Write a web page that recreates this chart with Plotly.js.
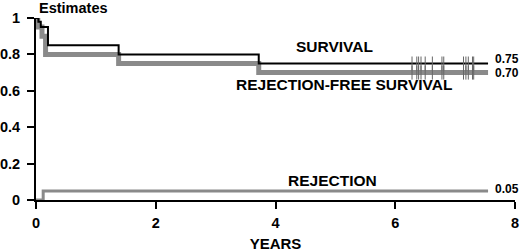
<!DOCTYPE html>
<html>
<head>
<meta charset="utf-8">
<script src="https://cdn.plot.ly/plotly-3.0.1.min.js"></script>
<style>html,body{margin:0;padding:0;background:#fff}#chart{width:520px;height:252px}</style>
</head>
<body>
<div id="chart"></div>
<script>
// Kaplan-Meier style step data (years, estimate)
const survivalYears = [0, 0.04, 0.08, 0.2, 1.38, 3.72, 7.55];
const survivalValues = [1, 0.98, 0.95, 0.85, 0.80, 0.75, 0.75];
const rejFreeYears = [0, 0.03, 0.1, 0.16, 1.38, 3.72, 7.55];
const rejFreeValues = [1, 0.95, 0.90, 0.80, 0.75, 0.70, 0.70];
const rejectionYears = [0, 0.12, 7.55];
const rejectionValues = [0, 0.05, 0.05];
const censorYears = [6.28, 6.36, 6.39, 6.43, 6.50, 6.62, 6.78, 6.81, 7.14, 7.18, 7.22, 7.29, 7.31];
const xTicks = [0, 2, 4, 6, 8];
const yTicks = [0, 0.2, 0.4, 0.6, 0.8, 1];
const yTickText = ['0', '0.2', '0.4', '0.6', '0.8', '1'];

const font = 'Liberation Sans, Arial, sans-serif';
const grey = '#8a8a8a';

const traces = [
  {x: rejFreeYears, y: rejFreeValues, mode: 'lines', line: {shape: 'hv', color: grey, width: 5}, hoverinfo: 'skip', cliponaxis: false},
  {x: survivalYears, y: survivalValues, mode: 'lines', line: {shape: 'hv', color: '#000', width: 2}, hoverinfo: 'skip', cliponaxis: false},
  {x: rejectionYears, y: rejectionValues, mode: 'lines', line: {shape: 'hv', color: grey, width: 3}, hoverinfo: 'skip', cliponaxis: false},
  {x: censorYears, y: censorYears.map(() => survivalValues[survivalValues.length - 1]), mode: 'markers',
   marker: {symbol: 'line-ns', size: 10, line: {color: '#666', width: 1}}, hoverinfo: 'skip', cliponaxis: false},
  {x: censorYears, y: censorYears.map(() => rejFreeValues[rejFreeValues.length - 1]), mode: 'markers',
   marker: {symbol: 'line-ns', size: 10, line: {color: '#666', width: 1}}, hoverinfo: 'skip', cliponaxis: false}
];

const bold = (s) => '<b>' + s + '</b>';

const layout = {
  width: 520, height: 252,
  margin: {l: 36, r: 5, t: 18, b: 52},
  paper_bgcolor: '#fff', plot_bgcolor: '#fff',
  showlegend: false,
  font: {family: font, color: '#000'},
  xaxis: {
    range: [0, 8], tickvals: xTicks, ticktext: xTicks.map(v => bold(String(v))),
    showgrid: false, zeroline: false, showline: true, linecolor: '#000', linewidth: 2,
    ticks: 'outside', ticklen: 7, tickwidth: 2, tickcolor: '#000',
    tickfont: {size: 14.5, family: font}, ticklabelstandoff: 2,
    title: {text: bold('YEARS'), font: {size: 15, family: font}, standoff: 10}
  },
  yaxis: {
    range: [0, 1], tickvals: yTicks, ticktext: yTickText.map(bold),
    showgrid: false, zeroline: false, showline: true, linecolor: '#000', linewidth: 2,
    ticks: 'outside', ticklen: 7, tickwidth: 2, tickcolor: '#000',
    tickfont: {size: 14.5, family: font}, ticklabelstandoff: 4
  },
  annotations: [
    {text: bold('Estimates'), xref: 'paper', yref: 'paper', x: 0.002, y: 1.055, xanchor: 'left', yanchor: 'middle', showarrow: false, font: {size: 14.5}},
    {text: bold('SURVIVAL'), xref: 'x', yref: 'y', x: 4.98, y: 0.845, xanchor: 'center', yanchor: 'middle', showarrow: false, font: {size: 15.5}},
    {text: bold('REJECTION-FREE SURVIVAL'), xref: 'x', yref: 'y', x: 5.15, y: 0.635, xanchor: 'center', yanchor: 'middle', showarrow: false, font: {size: 15.5}},
    {text: bold('REJECTION'), xref: 'x', yref: 'y', x: 4.95, y: 0.105, xanchor: 'center', yanchor: 'middle', showarrow: false, font: {size: 15.5}},
    {text: bold('0.75'), xref: 'x', yref: 'y', x: 7.63, y: 0.775, xanchor: 'left', yanchor: 'middle', showarrow: false, font: {size: 12}},
    {text: bold('0.70'), xref: 'x', yref: 'y', x: 7.63, y: 0.70, xanchor: 'left', yanchor: 'middle', showarrow: false, font: {size: 12}},
    {text: bold('0.05'), xref: 'x', yref: 'y', x: 7.63, y: 0.06, xanchor: 'left', yanchor: 'middle', showarrow: false, font: {size: 12}}
  ]
};

Plotly.newPlot('chart', traces, layout, {staticPlot: true, displayModeBar: false});
</script>
</body>
</html>
